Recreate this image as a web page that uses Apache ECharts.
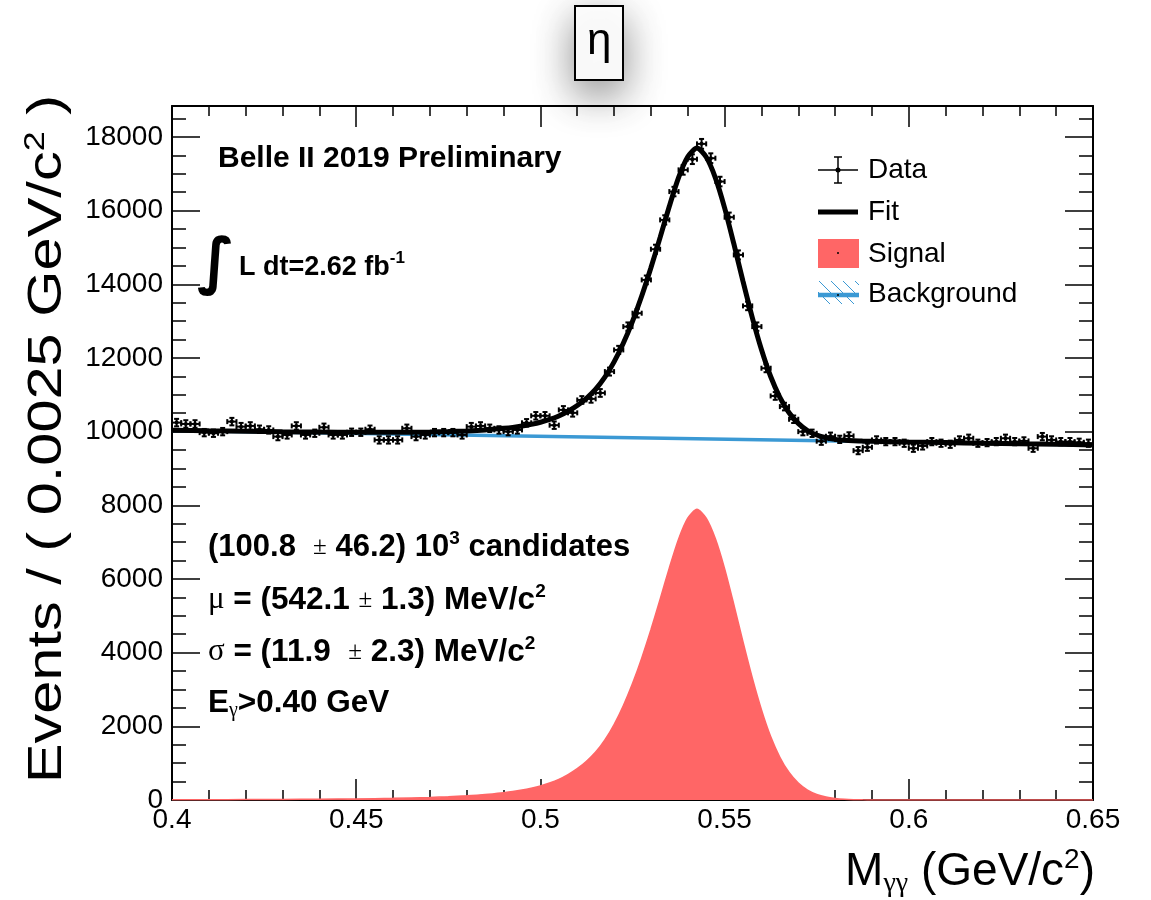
<!DOCTYPE html>
<html>
<head>
<meta charset="utf-8">
<script src="https://cdn.jsdelivr.net/npm/echarts@6/dist/echarts.min.js"></script>
<style>
html,body{margin:0;padding:0;background:#fff;}
#chart{width:1151px;height:900px;}
</style>
</head>
<body>
<div id="chart"></div>
<script>
// ---------------- data ----------------
const xTickLabels = ['0.4', '0.45', '0.5', '0.55', '0.6', '0.65'];
const yTickLabels = ['0', '2000', '4000', '6000', '8000', '10000', '12000', '14000', '16000', '18000'];

// histogram: 100 bins of 0.0025 GeV/c^2 from 0.40 to 0.65
const binLow = 0.40;
const binWidth = 0.0025;
const dataCounts = [
  10245, 10209, 10209, 9973, 9956, 10000, 10272, 10136, 10155, 10065,
  10046, 9865, 9910, 10155, 9910, 9956, 10118, 9910, 9910, 9983,
  9983, 10065, 9775, 9775, 9775, 10091, 9865, 9910, 9973, 9973,
  9973, 9910, 10136, 10155, 10091, 10046, 10000, 10046, 10240, 10430,
  10430, 10175, 10590, 10510, 10860, 10890, 11050, 11630, 12218, 12851,
  13215, 14119, 14952, 15748, 16517, 17106, 17396, 17812, 17423, 16789,
  15821, 14798, 13413, 12851, 11721, 10969, 10680, 10336, 10000, 9955,
  9740, 9875, 9790, 9883, 9484, 9576, 9775, 9729, 9729, 9685,
  9549, 9612, 9729, 9685, 9657, 9775, 9820, 9685, 9702, 9729,
  9820, 9729, 9748, 9549, 9865, 9775, 9729, 9729, 9711, 9685
];

// model curves sampled along the mass axis
const curveX = [
  0.400, 0.410, 0.420, 0.430, 0.440, 0.450, 0.460, 0.470, 0.475, 0.480,
  0.485, 0.490, 0.4925, 0.495, 0.4975, 0.500, 0.5025, 0.505, 0.5075, 0.510,
  0.5125, 0.515, 0.5175, 0.520, 0.5225, 0.525, 0.5275, 0.530, 0.5325, 0.535,
  0.5375, 0.540, 0.5425, 0.545, 0.5475, 0.550, 0.5525, 0.555, 0.5575, 0.560,
  0.5625, 0.565, 0.5675, 0.570, 0.5725, 0.575, 0.5775, 0.580, 0.5825, 0.585,
  0.5875, 0.590, 0.600, 0.610, 0.620, 0.630, 0.640, 0.650
];
const signalY = [
  6, 8, 11, 15, 21, 30, 45, 70, 90, 115,
  150, 200, 230, 270, 320, 380, 460, 560, 690, 850,
  1050, 1300, 1630, 2050, 2560, 3160, 3850, 4620, 5450, 6300,
  7080, 7650, 7890, 7650, 7090, 6280, 5310, 4290, 3320, 2450,
  1720, 1160, 745, 460, 268, 151, 81, 41, 20, 9,
  4, 2, 0, 0, 0, 0, 0, 0
];
const fitY = [
  10036, 10022, 10010, 9998, 9989, 9982, 9981, 9991, 10003, 10020,
  10047, 10090, 10116, 10152, 10198, 10254, 10330, 10426, 10552, 10708,
  10905, 11151, 11477, 11893, 12399, 12995, 13681, 14447, 15273, 16119,
  16896, 17462, 17698, 17454, 16890, 16076, 15102, 14078, 13104, 12230,
  11497, 10933, 10514, 10225, 10029, 9908, 9834, 9790, 9765, 9750,
  9742, 9736, 9718, 9702, 9687, 9671, 9656, 9640
];
const bkgX = [0.40, 0.65];
const bkgY = [10030, 9640];

// ---------------- chart ----------------
const SANS = 'Liberation Sans, Arial, Helvetica, sans-serif';
const SERIF = 'Liberation Serif, Times New Roman, serif';
const RED = '#ff6666';
const BLUE = '#3b99d4';

const histData = dataCounts.map((n, i) => [binLow + (i + 0.5) * binWidth, n, Math.sqrt(n)]);
const signalData = curveX.map((x, i) => [x, signalY[i]]);
const fitData = curveX.map((x, i) => [x, fitY[i]]);
const bkgData = bkgX.map((x, i) => [x, bkgY[i]]);

const xFmt = v => { const s = String(+(+v).toFixed(3)); return xTickLabels.includes(s) ? s : ''; };
const yFmt = v => { const s = String(Math.round(v)); return yTickLabels.includes(s) ? s : ''; };

function axisX(pos, labels) {
  return {
    type: 'value', min: 0.4, max: 0.65, interval: 0.05, position: pos, gridIndex: 0,
    axisLine: { show: true, onZero: false, lineStyle: { color: '#000', width: 2 } },
    axisTick: { show: true, inside: true, length: 21, lineStyle: { color: '#000', width: 1.5 } },
    minorTick: { show: true, splitNumber: 5, length: 10, lineStyle: { color: '#000', width: 1.5 } },
    splitLine: { show: false }, minorSplitLine: { show: false },
    axisLabel: labels ? { show: true, fontSize: 28, color: '#000', fontFamily: SANS, margin: 6,
      formatter: xFmt, showMinLabel: true, showMaxLabel: true, hideOverlap: false } : { show: false }
  };
}
function axisY(pos, labels) {
  return {
    type: 'value', min: 0, max: 18840, interval: 2000, position: pos, gridIndex: 0,
    axisLine: { show: true, onZero: false, lineStyle: { color: '#000', width: 2 } },
    axisTick: { show: true, inside: true, length: 28, lineStyle: { color: '#000', width: 1.5 } },
    minorTick: { show: true, splitNumber: 4, length: 14, lineStyle: { color: '#000', width: 1.5 } },
    splitLine: { show: false }, minorSplitLine: { show: false },
    axisLabel: labels ? { show: true, fontSize: 28, color: '#000', fontFamily: SANS, margin: 9,
      formatter: yFmt, showMinLabel: true, showMaxLabel: false, hideOverlap: false } : { show: false }
  };
}

// legend hatch for background
const hatch = [];
(function () {
  const x0 = 818, x1 = 859, y0 = 281, y1 = 304, step = 12;
  for (let a = x0 - (y1 - y0); a < x1; a += step) {
    let xs = a, ys = y0, xe = a + (y1 - y0), ye = y1;
    if (xs < x0) { ys += x0 - xs; xs = x0; }
    if (xe > x1) { ye -= xe - x1; xe = x1; }
    if (xe > xs) hatch.push({ type: 'line', shape: { x1: xs, y1: ys, x2: xe, y2: ye },
      style: { stroke: BLUE, lineWidth: 1 }, z: 50 });
  }
})();

const bold = (size) => ({ fontFamily: SANS, fontWeight: 'bold', fontSize: size, lineHeight: 36, fill: '#000' });
const sym = (size) => ({ fontFamily: SERIF, fontWeight: 'normal', fontSize: size, lineHeight: 36, fill: '#000' });
const sup = { fontFamily: SANS, fontWeight: 'bold', fontSize: 19, lineHeight: 20, verticalAlign: 'top', fill: '#000' };

const option = {
  animation: false,
  backgroundColor: '#fff',
  title: {
    text: 'η', left: 575, top: 6,
    padding: [11, 12, 13, 12],
    backgroundColor: '#fff', borderColor: '#000', borderWidth: 2,
    shadowBlur: 40, shadowColor: 'rgba(0,0,0,0.45)', shadowOffsetY: 14,
    textStyle: { fontFamily: SANS, fontWeight: 'normal', fontSize: 44, lineHeight: 50, color: '#000' }
  },
  grid: { left: 172, right: 58, top: 106, bottom: 100, containLabel: false },
  xAxis: [axisX('bottom', true), axisX('top', false)],
  yAxis: [axisY('left', true), axisY('right', false)],
  series: [
    { name: 'Signal', type: 'line', data: signalData, smooth: 0.25,
      showSymbol: false, symbol: 'none', z: 1,
      lineStyle: { color: RED, width: 1.5 }, areaStyle: { color: RED, opacity: 1 } },
    { name: 'Background', type: 'line', data: bkgData, showSymbol: false, symbol: 'none', z: 2,
      lineStyle: { color: BLUE, width: 3.5 } },
    { name: 'Data', type: 'custom', data: histData, z: 3, clip: true,
      renderItem: function (params, api) {
        const x = api.value(0), y = api.value(1), e = api.value(2);
        const c = api.coord([x, y]);
        const l = api.coord([x - binWidth / 2, y]);
        const r = api.coord([x + binWidth / 2, y]);
        const t = api.coord([x, y + e]);
        const b = api.coord([x, y - e]);
        const st = { stroke: '#000', lineWidth: 2 };
        const cp = 2.5;
        return { type: 'group', children: [
          { type: 'line', shape: { x1: l[0], y1: c[1], x2: r[0], y2: c[1] }, style: st },
          { type: 'line', shape: { x1: c[0], y1: t[1], x2: c[0], y2: b[1] }, style: st },
          { type: 'line', shape: { x1: c[0] - cp, y1: t[1], x2: c[0] + cp, y2: t[1] }, style: st },
          { type: 'line', shape: { x1: c[0] - cp, y1: b[1], x2: c[0] + cp, y2: b[1] }, style: st },
          { type: 'line', shape: { x1: l[0], y1: c[1] - cp, x2: l[0], y2: c[1] + cp }, style: st },
          { type: 'line', shape: { x1: r[0], y1: c[1] - cp, x2: r[0], y2: c[1] + cp }, style: st },
          { type: 'circle', shape: { cx: c[0], cy: c[1], r: 2 }, style: { fill: '#000' } }
        ] };
      } },
    { name: 'Fit', type: 'line', data: fitData, smooth: 0.25,
      showSymbol: false, symbol: 'none', z: 4,
      lineStyle: { color: '#000', width: 5 } }
  ],
  graphic: [
    // axis titles
    { type: 'text', x: 1095, y: 872, z: 50, style: {
        text: '{n|M}{s|γγ}{n| (GeV/c}{p|2}{n|)}', align: 'right', verticalAlign: 'middle',
        rich: {
          n: { fontFamily: SANS, fontSize: 46, lineHeight: 52, fill: '#000' },
          s: { fontFamily: SERIF, fontSize: 28, lineHeight: 14, verticalAlign: 'bottom', fill: '#000' },
          p: { fontFamily: SANS, fontSize: 28, lineHeight: 28, verticalAlign: 'top', fill: '#000' }
        } } },
    { type: 'text', x: 48, y: 95, rotation: Math.PI / 2, scaleX: 1.24, z: 50, style: {
        text: '{n|Events / ( 0.0025 GeV/c}{p|2}{n| )}', align: 'right', verticalAlign: 'middle',
        rich: {
          n: { fontFamily: SANS, fontSize: 48, lineHeight: 54, fill: '#000' },
          p: { fontFamily: SANS, fontSize: 29, lineHeight: 29, verticalAlign: 'top', fill: '#000' }
        } } },
    // annotations
    { type: 'text', x: 218, y: 159, z: 50, style: { text: 'Belle II 2019 Preliminary',
        fontFamily: SANS, fontWeight: 'bold', fontSize: 30, fill: '#000', verticalAlign: 'middle' } },
    { type: 'text', x: 216, y: 266, z: 50, style: { text: '∫', fontFamily: 'DejaVu Sans',
        fontWeight: 'bold', fontSize: 62, fill: '#000', align: 'center', verticalAlign: 'middle' } },
    { type: 'text', x: 239, y: 268, z: 50, style: {
        text: '{b|L dt=2.62 fb}{p|-1}', verticalAlign: 'middle',
        rich: { b: bold(27), p: { fontFamily: SANS, fontWeight: 'bold', fontSize: 17, lineHeight: 18, verticalAlign: 'top', fill: '#000' } } } },
    { type: 'text', x: 208, y: 547, z: 50, style: {
        text: '{b|(100.8  }{s|±}{b| 46.2) 10}{p|3}{b| candidates}', verticalAlign: 'middle',
        rich: { b: bold(31), s: sym(25), p: sup } } },
    { type: 'text', x: 208, y: 600, z: 50, style: {
        text: '{s|μ}{b| = (542.1 }{t|±}{b| 1.3) MeV/c}{p|2}', verticalAlign: 'middle',
        rich: { b: bold(31.5), s: sym(31), t: sym(25), p: sup } } },
    { type: 'text', x: 208, y: 652, z: 50, style: {
        text: '{s|σ}{b| = (11.9  }{t|±}{b| 2.3) MeV/c}{p|2}', verticalAlign: 'middle',
        rich: { b: bold(31.5), s: sym(31), t: sym(25), p: sup } } },
    { type: 'text', x: 208, y: 703, z: 50, style: {
        text: '{b|E}{g|γ}{b|>0.40 GeV}', verticalAlign: 'middle',
        rich: { b: bold(31.5), g: { fontFamily: SERIF, fontSize: 20, lineHeight: 12, verticalAlign: 'bottom', fill: '#000' } } } },
    // legend
    { type: 'line', shape: { x1: 818, y1: 170, x2: 858, y2: 170 }, style: { stroke: '#000', lineWidth: 1.5 }, z: 50 },
    { type: 'line', shape: { x1: 838, y1: 157, x2: 838, y2: 183 }, style: { stroke: '#000', lineWidth: 1.5 }, z: 50 },
    { type: 'line', shape: { x1: 834, y1: 157, x2: 842, y2: 157 }, style: { stroke: '#000', lineWidth: 1.5 }, z: 50 },
    { type: 'line', shape: { x1: 834, y1: 183, x2: 842, y2: 183 }, style: { stroke: '#000', lineWidth: 1.5 }, z: 50 },
    { type: 'circle', shape: { cx: 838, cy: 170, r: 2.5 }, style: { fill: '#000' }, z: 50 },
    { type: 'text', x: 868, y: 170, z: 50, style: { text: 'Data', fontFamily: SANS, fontSize: 28, fill: '#000', verticalAlign: 'middle' } },
    { type: 'line', shape: { x1: 818, y1: 212, x2: 858, y2: 212 }, style: { stroke: '#000', lineWidth: 5 }, z: 50 },
    { type: 'text', x: 868, y: 212, z: 50, style: { text: 'Fit', fontFamily: SANS, fontSize: 28, fill: '#000', verticalAlign: 'middle' } },
    { type: 'rect', shape: { x: 818, y: 239, width: 41, height: 29 }, style: { fill: RED }, z: 50 },
    { type: 'circle', shape: { cx: 838, cy: 253, r: 1 }, style: { fill: '#000' }, z: 51 },
    { type: 'text', x: 868, y: 254, z: 50, style: { text: 'Signal', fontFamily: SANS, fontSize: 28, fill: '#000', verticalAlign: 'middle' } },
    ...hatch,
    { type: 'line', shape: { x1: 818, y1: 295, x2: 859, y2: 295 }, style: { stroke: BLUE, lineWidth: 4.5 }, z: 51 },
    { type: 'circle', shape: { cx: 838, cy: 295, r: 1 }, style: { fill: '#000' }, z: 52 },
    { type: 'text', x: 868, y: 294, z: 50, style: { text: 'Background', fontFamily: SANS, fontSize: 28, fill: '#000', verticalAlign: 'middle' } }
  ]
};

const chart = echarts.init(document.getElementById('chart'), null, { renderer: 'canvas' });
chart.setOption(option);
</script>
</body>
</html>
